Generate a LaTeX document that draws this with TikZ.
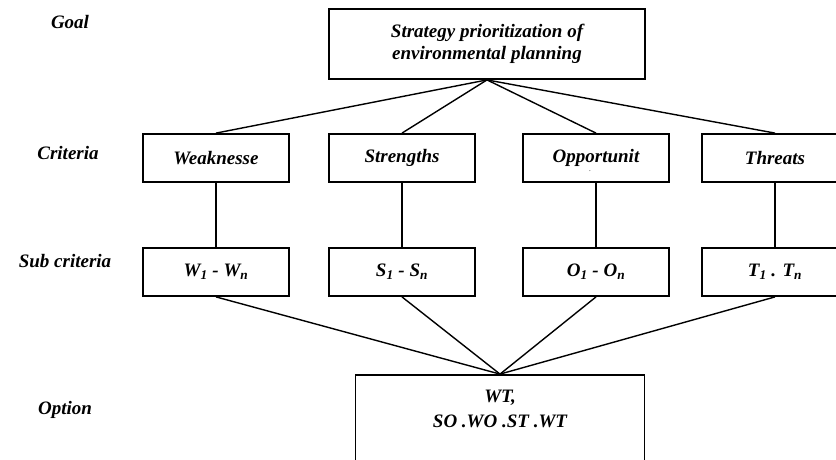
\documentclass[tikz,border=0pt]{standalone}
\usepackage{fontspec}
\setmainfont{Liberation Serif}
\usetikzlibrary{positioning}
\begin{document}
\begin{tikzpicture}[x=1pt, y=-1pt, line width=1.4pt]

    \tikzstyle{tbox}=[draw, rectangle, line width=1.8pt, minimum width=146pt, minimum height=48pt, inner sep=2pt, font=\fontsize{19}{22}\selectfont\bfseries\itshape]
    \tikzstyle{tlevel}=[font=\fontsize{19}{22}\selectfont\bfseries\itshape]

    \useasboundingbox (0,0) rectangle (836,459);

    % goal
    \node[tbox, minimum width=316pt, minimum height=70pt, align=center] (goal) at (487,44) {Strategy prioritization of\\environmental planning};

    % option
    \node[tbox, minimum width=289pt, minimum height=110pt] (opt) at (500,430) {};
    \node[tlevel, font=\fontsize{19}{25}\selectfont\bfseries\itshape, align=center, below=12pt of opt.north] (opttxt) {WT,\\SO .WO .ST .WT};

    % criteria and sub criteria
    \foreach \n/\x/\t/\s in {w/216/Weaknesse/{W\textsubscript{1} - W\textsubscript{n}},
                             s/402/Strengths/{S\textsubscript{1} - S\textsubscript{n}},
                             o/596/Opportunit/{O\textsubscript{1} - O\textsubscript{n}},
                             t/775/Threats/{T\textsubscript{1} . T\textsubscript{n}}} {
        \node[tbox] (\n) at (\x,158) {\t};
        \node[tbox] (\n sub) at (\x,272) {\s};
        \draw (goal.south) -- (\n.north);
        \draw (\n.south) -- (\n sub.north);
        \draw (\n sub.south) -- (opt.north);
    }
    \node[font=\scriptsize, inner sep=0pt] (odot) at (590,171) {.};

    % levels
    \node[tlevel] (lgoal) at (70,22) {Goal};
    \node[tlevel] (lcrit) at (68,153) {Criteria};
    \node[tlevel] (lsub) at (65,261) {Sub criteria};
    \node[tlevel] (lopt) at (65,410) {Option};

\end{tikzpicture}
\end{document}
